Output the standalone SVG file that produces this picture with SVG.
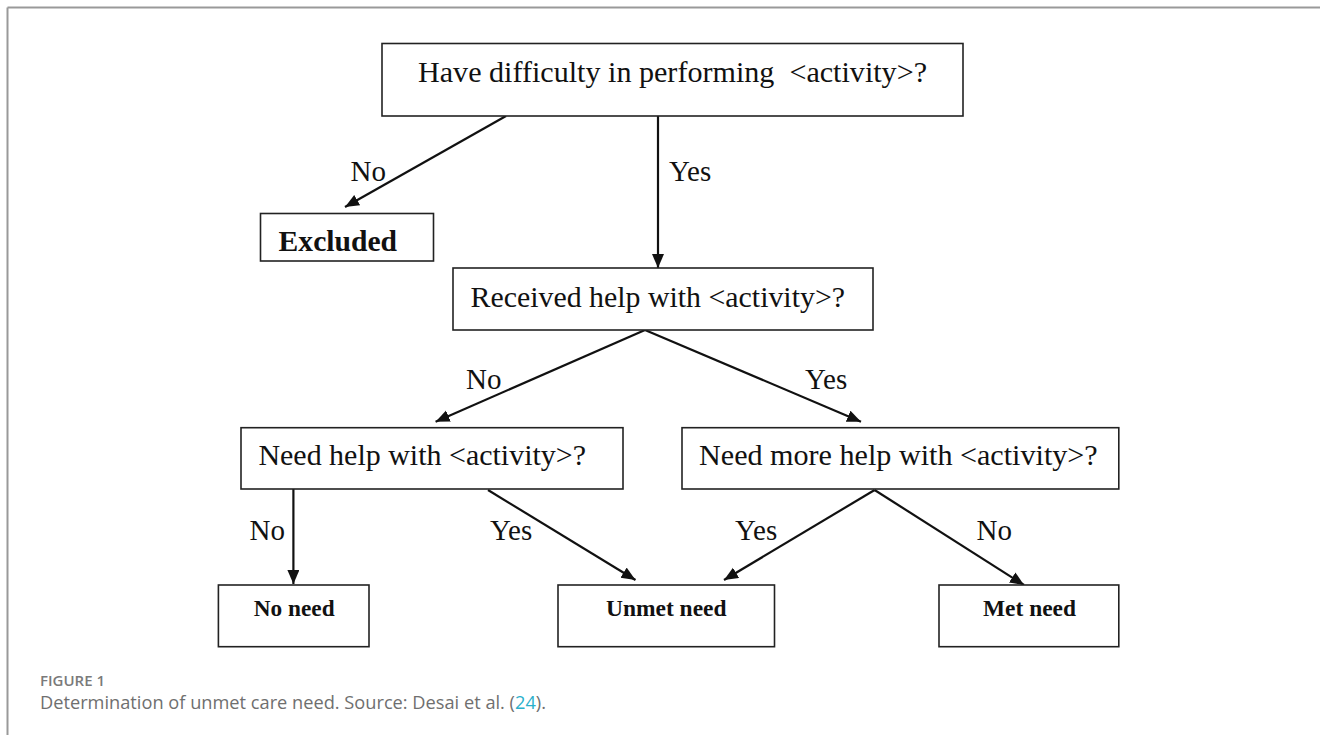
<svg xmlns="http://www.w3.org/2000/svg" width="1320" height="735" viewBox="0 0 1320 735">
<defs>
<style>
.box{fill:#fff;stroke:#222;stroke-width:1.6}
.t{font-family:"Liberation Serif","Times New Roman",serif;font-size:29px;fill:#111}
.b{font-family:"Liberation Serif","Times New Roman",serif;font-size:24px;font-weight:bold;fill:#111}
.lbl{font-family:"Liberation Serif","Times New Roman",serif;font-size:29px;fill:#111}
.edge{stroke:#111;stroke-width:2.2;fill:none;marker-end:url(#ah)}
.cap1{font-family:"Open Sans","Noto Sans",sans-serif;font-size:15px;font-weight:600;fill:#7a7a7a}
.cap2{font-family:"Open Sans","Noto Sans",sans-serif;font-size:18px;fill:#6f6f6f}
</style>
<marker id="ah" markerUnits="userSpaceOnUse" markerWidth="16" markerHeight="14" refX="14" refY="6" orient="auto">
<path d="M0,0 L14,6 L0,12 z" fill="#111"/>
</marker>
</defs>
<rect width="1320" height="735" fill="#fff"/>
<g id="frame" stroke="#999" stroke-width="2" fill="none">
<line x1="7.5" y1="7.5" x2="1320" y2="7.5"/>
<line x1="7.5" y1="7.5" x2="7.5" y2="735"/>
</g>
<g id="connectors">
<line class="edge" x1="506" y1="116" x2="345" y2="207"/>
<line class="edge" x1="658" y1="116" x2="658" y2="268"/>
<line class="edge" x1="645" y1="330" x2="435.6" y2="421.7"/>
<line class="edge" x1="645" y1="330" x2="861" y2="421.7"/>
<line class="edge" x1="293.4" y1="489" x2="293.4" y2="584"/>
<line class="edge" x1="488" y1="490" x2="635.5" y2="580"/>
<line class="edge" x1="874.6" y1="490" x2="724" y2="580"/>
<line class="edge" x1="874.6" y1="490" x2="1024" y2="585"/>
<text class="lbl" x="350.6" y="181">No</text>
<text class="lbl" x="669" y="181">Yes</text>
<text class="lbl" x="466" y="389">No</text>
<text class="lbl" x="805" y="389">Yes</text>
<text class="lbl" x="249.6" y="540">No</text>
<text class="lbl" x="490" y="540">Yes</text>
<text class="lbl" x="735" y="540">Yes</text>
<text class="lbl" x="976.5" y="540">No</text>
</g>
<g id="n-difficulty">
<rect class="box" x="382" y="43.5" width="581" height="72.5"/>
<text class="t" x="418" y="82" xml:space="preserve" textLength="509" lengthAdjust="spacingAndGlyphs">Have difficulty in performing  &lt;activity&gt;?</text>
</g>
<g id="n-excluded">
<rect class="box" x="260.5" y="213.5" width="173" height="47.5"/>
<text class="b" x="278.6" y="251" style="font-size:29px" textLength="118.4" lengthAdjust="spacingAndGlyphs">Excluded</text>
</g>
<g id="n-received">
<rect class="box" x="453" y="268" width="420" height="62"/>
<text class="t" x="470.5" y="307" textLength="374.5" lengthAdjust="spacingAndGlyphs">Received help with &lt;activity&gt;?</text>
</g>
<g id="n-needhelp">
<rect class="box" x="241" y="427.7" width="382" height="61.3"/>
<text class="t" x="258.4" y="465" textLength="327.6" lengthAdjust="spacingAndGlyphs">Need help with &lt;activity&gt;?</text>
</g>
<g id="n-needmore">
<rect class="box" x="682" y="427.7" width="436.8" height="61.3"/>
<text class="t" x="699" y="465" textLength="398.7" lengthAdjust="spacingAndGlyphs">Need more help with &lt;activity&gt;?</text>
</g>
<g id="n-noneed">
<rect class="box" x="218.4" y="585" width="150.6" height="61.7"/>
<text class="b" x="253.8" y="616" textLength="80.8" lengthAdjust="spacingAndGlyphs">No need</text>
</g>
<g id="n-unmet">
<rect class="box" x="558" y="585" width="216.5" height="61.7"/>
<text class="b" x="606" y="616" textLength="120.5" lengthAdjust="spacingAndGlyphs">Unmet need</text>
</g>
<g id="n-met">
<rect class="box" x="939" y="585" width="179.8" height="61.7"/>
<text class="b" x="983" y="616" textLength="93" lengthAdjust="spacingAndGlyphs">Met need</text>
</g>
<g id="caption">
<text class="cap1" x="40" y="686">FIGURE 1</text>
<text class="cap2" x="40" y="709" textLength="506" lengthAdjust="spacingAndGlyphs">Determination of unmet care need. Source: Desai et al. (<tspan fill="#2ab0cc">24</tspan>).</text>
</g>
</svg>
